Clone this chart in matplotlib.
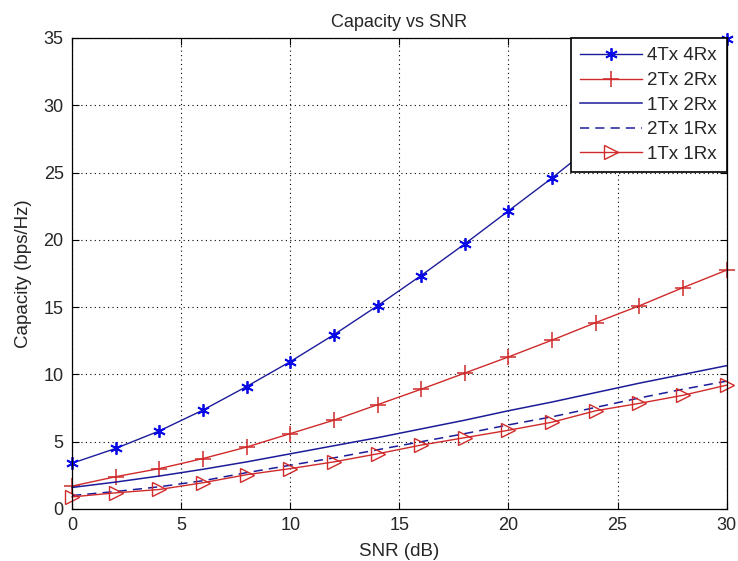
import numpy as np
import matplotlib
matplotlib.use("Agg")
import matplotlib.pyplot as plt

# SNR points (dB)
snr = [0, 2, 4, 6, 8, 10, 12, 14, 16, 18, 20, 22, 24, 26, 28, 30]

# capacity (bps/Hz)
cap_4x4 = [3.4, 4.5, 5.8, 7.35, 9.1, 10.95, 12.95, 15.1, 17.35, 19.7, 22.15, 24.6, 27.2, 29.8, 32.4, 34.9]
cap_2x2 = [1.7, 2.4, 3.0, 3.75, 4.6, 5.6, 6.6, 7.75, 8.9, 10.1, 11.3, 12.55, 13.85, 15.1, 16.45, 17.75]
cap_1x2 = [1.6, 2.0, 2.45, 2.95, 3.5, 4.1, 4.7, 5.3, 5.95, 6.6, 7.3, 7.95, 8.65, 9.35, 10.0, 10.65]
cap_2x1 = [1.0, 1.3, 1.65, 2.1, 2.7, 3.25, 3.8, 4.4, 5.0, 5.6, 6.25, 6.85, 7.55, 8.25, 8.9, 9.5]
cap_1x1 = [0.9, 1.2, 1.45, 1.95, 2.55, 3.0, 3.5, 4.1, 4.75, 5.3, 5.85, 6.45, 7.3, 7.85, 8.45, 9.2]

labels = ['4Tx 4Rx', '2Tx 2Rx', '1Tx 2Rx', '2Tx 1Rx', '1Tx 1Rx']

blue = '#1c1c9a'
red = '#d02a2a'
txt = '#262626'

plt.rcParams['font.family'] = ['Liberation Sans', 'DejaVu Sans']
plt.rcParams['text.color'] = txt
plt.rcParams['axes.labelcolor'] = txt
plt.rcParams['xtick.labelcolor'] = txt
plt.rcParams['ytick.labelcolor'] = txt

fig = plt.figure(figsize=(7.38, 5.61), dpi=100)
ax = fig.add_axes([0.0976, 0.0927, 0.887, 0.8396])

# MATLAB-like asterisk marker
ax.plot(snr, cap_4x4, '-', color=blue, lw=1, marker=(6, 2, 0), ms=9, mew=1.3,
        mec='#0a0ae6', label=labels[0], clip_on=False)
ax.plot(snr, cap_2x2, '-', color=red, lw=1, marker='+', ms=12, mew=1.1, label=labels[1], clip_on=False)
ax.plot(snr, cap_1x2, '-', color=blue, lw=1.1, label=labels[2], clip_on=False)
ax.plot(snr, cap_2x1, '--', color=blue, lw=1.1, dashes=(6, 4), label=labels[3], clip_on=False)
ax.plot(snr, cap_1x1, '-', color=red, lw=1, marker='>', ms=9.5, mfc='none', mew=1,
        label=labels[4], clip_on=False)

ax.set_xlim(0, 30)
ax.set_ylim(0, 35)
ax.set_xticks(np.arange(0, 31, 5))
ax.set_yticks(np.arange(0, 36, 5))
ax.grid(True, color='black', linestyle=(0, (1, 3)), linewidth=0.8)
ax.tick_params(direction='in', length=5, labelsize=13, top=True, right=True, pad=6)
for s in ax.spines.values():
    s.set_linewidth(0.9)

ax.set_title('Capacity vs SNR', fontsize=13, pad=8)
ax.set_xlabel('SNR (dB)', fontsize=13.5, labelpad=6)
ax.set_ylabel('Capacity (bps/Hz)', fontsize=13.5, labelpad=8)

leg = ax.legend(loc='upper right', fontsize=13.5, borderaxespad=0, fancybox=False,
                framealpha=1, edgecolor='black', handlelength=3.3, handletextpad=0.3,
                labelspacing=0.4, borderpad=0.5)
leg.get_frame().set_linewidth(1.2)
leg.set_zorder(5)

fig.savefig('out.png', dpi=100)
